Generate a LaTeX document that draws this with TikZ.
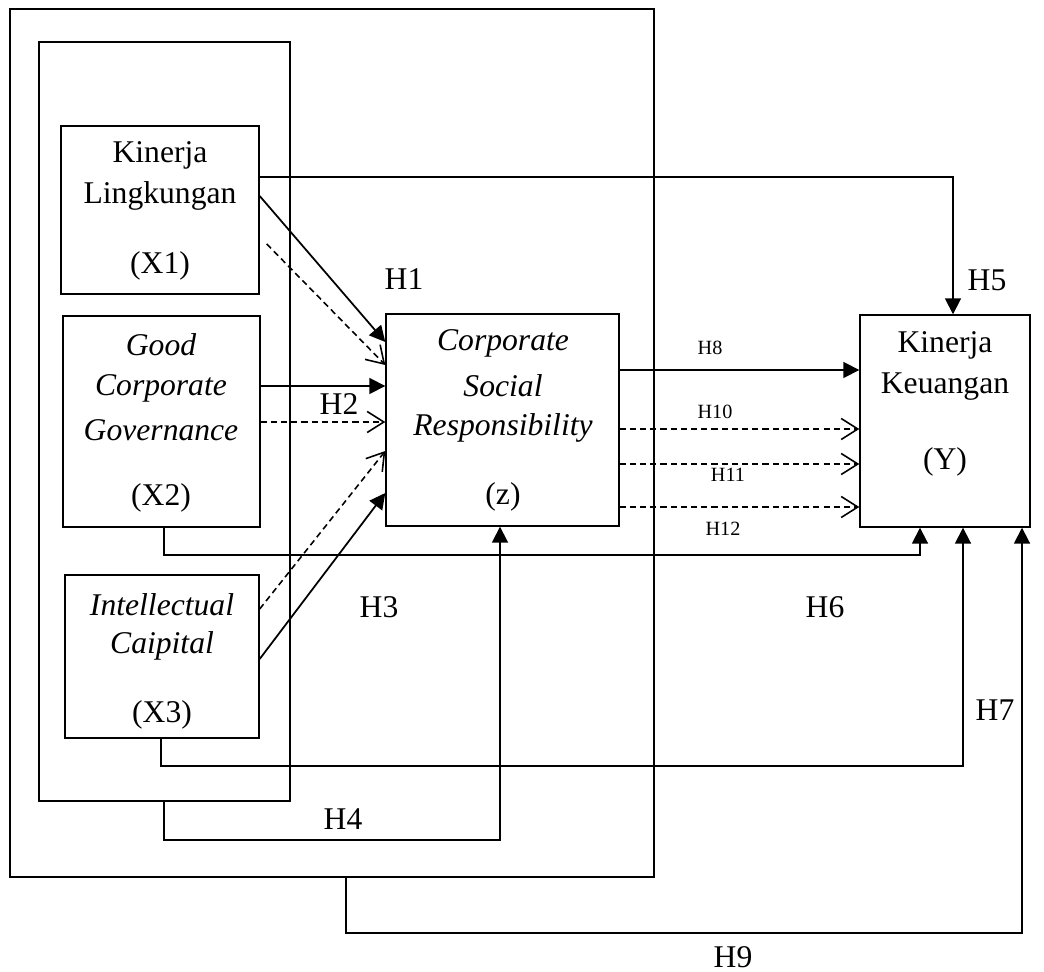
\documentclass[tikz,border=0pt]{standalone}
\usepackage{fontspec}
\setmainfont{Liberation Serif}
\usetikzlibrary{arrows.meta,fit,calc}
\begin{document}
\begin{tikzpicture}[x=0.02cm,y=-0.02cm,
  box/.style={draw,line width=0.8pt,inner sep=0pt},
  txt/.style={font=\fontsize{18}{21}\selectfont,inner sep=0pt,anchor=center},
  itxt/.style={txt,font=\fontsize{18}{21}\selectfont\itshape},
  small/.style={font=\fontsize{11.5}{14}\selectfont,inner sep=0pt,anchor=center},
  sarrow/.style={line width=1pt,-{Triangle[length=9pt,width=9pt]}},
  darrow/.style={line width=0.9pt,dash pattern=on 3.5pt off 2.3pt,-{Straight Barb[length=9.5pt,width=12pt,line width=0.9pt]}},
  conn/.style={line width=1pt}]
\useasboundingbox (0,0) rectangle (1044,972);
% frames
\node[box,line width=0.9pt,fit={(10,9) (654,877)}] (outer) {};
\node[box,line width=1.3pt,fit={(39,42) (290,801)}] (inner) {};
% boxes
\node[box,fit={(61,126) (259,294)}] (x1) {};
\node[box,fit={(63,316) (260,527)}] (x2) {};
\node[box,fit={(65,575) (259,738)}] (x3) {};
\node[box,fit={(386,314) (619,526)}] (csr) {};
\node[box,fit={(860,315) (1030,527)}] (yk) {};
% box texts
\node[txt] (x1a) at (160,155) {Kinerja};
\node[txt] (x1b) at (160,196) {Lingkungan};
\node[txt] (x1c) at (160,266) {(X1)};
\node[itxt] (x2a) at (161,345) {Good};
\node[itxt] (x2b) at (161,388) {Corporate};
\node[itxt] (x2c) at (161,430) {Governance};
\node[txt] (x2d) at (161,498) {(X2)};
\node[itxt] (x3a) at (162,605) {Intellectual};
\node[itxt] (x3b) at (162,646) {Caipital};
\node[txt] (x3c) at (162,715) {(X3)};
\node[itxt] (za) at (503,343) {Corporate};
\node[itxt] (zb) at (503,386) {Social};
\node[itxt] (zc) at (503,428) {Responsibility};
\node[txt] (zd) at (503,497) {(z)};
\node[txt] (ya) at (945,345) {Kinerja};
\node[txt] (yb) at (945,387) {Keuangan};
\node[txt] (yc) at (945,462) {(Y)};
% arrows into CSR
\draw[sarrow] (x1.east |- 0,196) -- (csr.west |- 0,342);
\draw[darrow] ($(x1.east |- 0,244)+(7,0)$) -- (csr.west |- 0,365);
\draw[sarrow] (x2.east |- 0,386) -- (csr.west |- 0,386);
\draw[darrow] (x2.east |- 0,422) -- (csr.west |- 0,422);
\draw[darrow] (x3.east |- 0,609) -- (csr.west |- 0,451);
\draw[sarrow] (x3.east |- 0,659) -- (csr.west |- 0,493);
% CSR to Y
\draw[sarrow] (csr.east |- 0,370) -- (yk.west |- 0,370);
\draw[darrow] (csr.east |- 0,429) -- (yk.west |- 0,429);
\draw[darrow] (csr.east |- 0,464) -- (yk.west |- 0,464);
\draw[darrow] (csr.east |- 0,507) -- (yk.west |- 0,507);
% direct paths
\draw[sarrow] (x1.east |- 0,177) -| (yk.north -| 953,0);
\draw[sarrow] (x2.south -| 164,0) |- (920,555) -- (yk.south -| 920,0);
\draw[sarrow] (x3.south -| 161,0) |- (963,766) -- (yk.south -| 963,0);
\draw[sarrow] (inner.south -| 164,0) |- (500,840) -- (csr.south -| 500,0);
\draw[sarrow] (outer.south -| 346,0) |- (1022,933) -- (yk.south -| 1022,0);
% labels
\node[txt] (h1) at (404,279) {H1};
\node[txt] (h2) at (339,404) {H2};
\node[txt] (h3) at (379,607) {H3};
\node[txt] (h4) at (343,819) {H4};
\node[txt] (h5) at (987,280) {H5};
\node[txt] (h6) at (825,607) {H6};
\node[txt] (h7) at (995,710) {H7};
\node[txt] (h9) at (733,957) {H9};
\node[small] (h8) at (710,348) {H8};
\node[small] (h10) at (715,412) {H10};
\node[small] (h11) at (728,475) {H11};
\node[small] (h12) at (723,529) {H12};
\end{tikzpicture}
\end{document}
